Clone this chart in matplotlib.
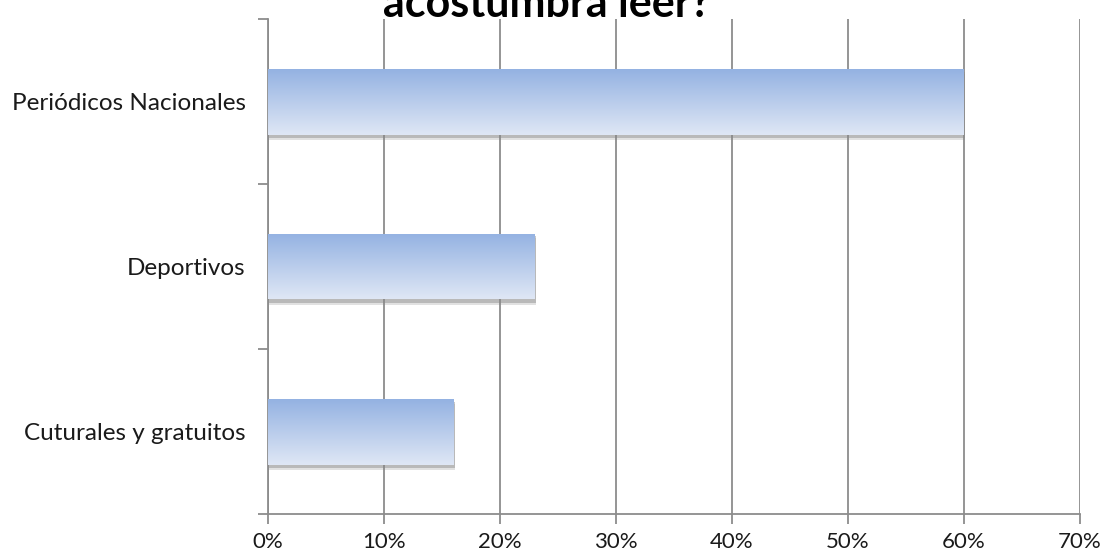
import numpy as np
import matplotlib
matplotlib.use('Agg')
import matplotlib.pyplot as plt
import matplotlib.transforms as mtransforms

# datos
categorias = ['Cuturales y gratuitos', 'Deportivos', 'Periódicos Nacionales']
valores = [16, 23, 60]
ticks_x = [0, 10, 20, 30, 40, 50, 60, 70]
etiquetas_x = ['0%', '10%', '20%', '30%', '40%', '50%', '60%', '70%']
titulo = 'acostumbra leer?'

plt.rcParams['font.family'] = ['Lato', 'DejaVu Sans']
gris = '#8c8c8c'

fig = plt.figure(figsize=(11.07, 5.58), dpi=100)
ax = fig.add_axes([268/1107, 1 - 514/558, 812/1107, 495/558])

pos = np.arange(len(categorias)) + 0.5
alto = 0.4

# sombra (dos capas para suavizarla)
for dy, a in [(-5, 0.25), (-3, 0.45)]:
    sombra = mtransforms.offset_copy(ax.transData, fig=fig, x=1, y=dy, units='dots')
    ax.barh(pos, valores, height=alto, color='#8a8a8a', alpha=a,
            transform=sombra, zorder=2, linewidth=0)

barras = ax.barh(pos, valores, height=alto, color='none', linewidth=0, zorder=3)

# degradado de cada barra
grad = np.linspace(0, 1, 256).reshape(-1, 1)
cmap = matplotlib.colors.LinearSegmentedColormap.from_list('g', ['#94b2e2', '#dfe7f5'])
for b in barras:
    x0, y0 = b.get_x(), b.get_y()
    w, h = b.get_width(), b.get_height()
    im = ax.imshow(grad, cmap=cmap, aspect='auto', origin='upper',
                   extent=[x0, x0 + w, y0, y0 + h], zorder=3)
    im.set_clip_path(b)

ax.set_xlim(0, 70)
ax.set_ylim(0, 3)

ax.set_xticks(ticks_x)
ax.set_xticklabels(etiquetas_x, fontsize=16, color='#1a1a1a')
ax.set_yticks([0, 1, 2, 3])
ax.set_yticklabels([])
ax.set_yticks(pos, minor=True)
ax.set_yticklabels(categorias, minor=True, fontsize=17.5, color='#1a1a1a')
ax.tick_params(axis='y', which='minor', length=0, pad=16)
ax.tick_params(axis='y', which='major', length=7, width=1.3, color=gris)
ax.tick_params(axis='x', length=7, width=1.3, color=gris, pad=6)

ax.grid(axis='x', color=gris, linewidth=1.3, zorder=1)
ax.set_axisbelow(True)
for s in ['top', 'right']:
    ax.spines[s].set_visible(False)
for s in ['left', 'bottom']:
    ax.spines[s].set_color(gris)
    ax.spines[s].set_linewidth(1.3)

# titulo (la parte superior queda fuera, como en la imagen)
fig.text(547/1107, 1 - 17/558, titulo, ha='center', va='baseline',
         fontsize=31, fontweight='bold', color='black')

fig.savefig('out.png', dpi=100)
